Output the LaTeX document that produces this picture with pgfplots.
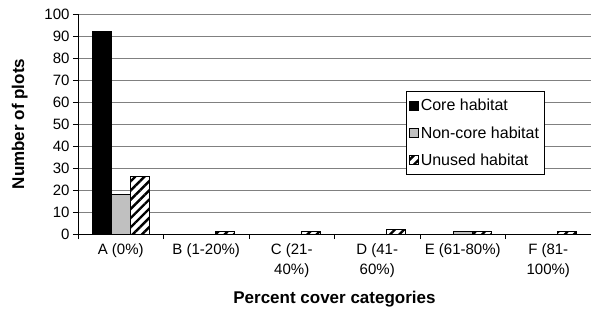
\documentclass[border=0pt]{standalone}
\usepackage{pgfplots}
\pgfplotsset{compat=1.18}
\usepackage{fontspec}
\setmainfont{Liberation Sans}
\usetikzlibrary{patterns.meta}
\definecolor{noncore}{RGB}{192,192,192}
\definecolor{gridgray}{RGB}{128,128,128}
\begin{document}
\begin{tikzpicture}
\path[use as bounding box] (-78bp,-78bp) rectangle (513bp,234bp);
\begin{axis}[
  at={(0,0)}, anchor=south west,
  scale only axis,
  width=513bp, height=220bp,
  xmin=-0.5, xmax=5.5,
  ymin=0, ymax=100,
  ytick={0,10,...,100},
  xtick={0,1,2,3,4,5},
  xticklabels={A (0\%), B (1-20\%), {C (21-\\40\%)}, {D (41-\\60\%)}, E (61-80\%), {F (81-\\100\%)}},
  minor xtick={-0.5,0.5,1.5,2.5,3.5,4.5,5.5},
  major x tick style={draw=none},
  minor tick length=5bp,
  major tick length=5bp,
  tick align=outside,
  axis x line*=bottom,
  axis y line*=left,
  axis line style={black, line width=0.8pt},
  tick style={black, line width=0.8pt},
  ymajorgrids,
  major grid style={gridgray, line width=0.7pt},
  /pgf/number format/assume math mode=true,
  ticklabel style={font=\fontsize{15bp}{18bp}\selectfont},
  xticklabel style={align=center, font=\fontsize{15bp}{20bp}\selectfont, yshift=-1bp},
  xlabel={\textbf{Percent cover categories}},
  ylabel={\textbf{Number of plots}},
  label style={font=\fontsize{17bp}{19bp}\selectfont},
  xlabel style={yshift=-7bp},
  ylabel style={yshift=10bp},
  ybar=0pt, bar width=19bp,
  every axis plot/.append style={draw=black, line width=0.7pt},
  legend style={at={(0.639,0.65)}, anchor=north west, draw=black, line width=0.7pt,
    font=\fontsize{16bp}{18bp}\selectfont, cells={anchor=west},
    row sep=10bp, inner xsep=3bp, inner ysep=6bp},
  legend image code/.code={\draw[#1, line width=0.6pt] (0bp,-4.5bp) rectangle (9bp,4.5bp);},
]
\addplot[fill=black] coordinates {(0,92)};
\addplot[fill=noncore] coordinates {(0,18) (4,1)};
\addplot[fill=white, postaction={pattern={Lines[angle=45,distance=6.5bp,line width=2.4bp]}, pattern color=black}]
  coordinates {(0,26) (1,1) (2,1) (3,2) (4,1) (5,1)};
\legend{Core habitat, Non-core habitat, Unused habitat}
\end{axis}
\end{tikzpicture}
\end{document}
